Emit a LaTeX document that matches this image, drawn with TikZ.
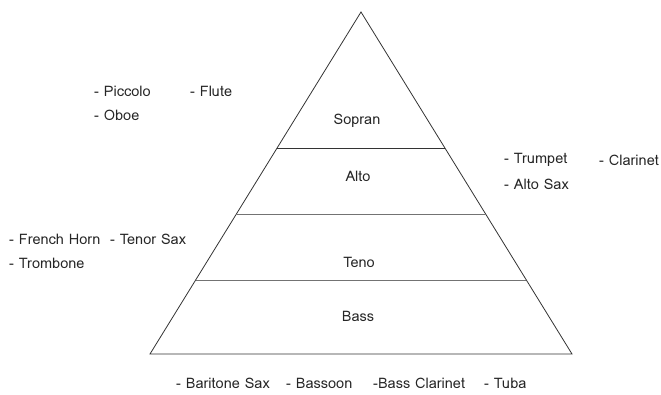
\documentclass[tikz,border=0pt]{standalone}
\usepackage{fontspec}
\setmainfont{Loma}
\begin{document}
\begin{tikzpicture}[x=1pt,y=-1pt,
  lbl/.style={anchor=west,inner sep=0pt,font=\fontsize{14.5}{16}\selectfont,text=black!85},
  clbl/.style={inner sep=0pt,font=\fontsize{14.5}{16}\selectfont,text=black!85},
  edge/.style={draw=black!80,line width=0.8pt},
  sep/.style={draw=black!55,line width=0.7pt}]
\useasboundingbox (0,0) rectangle (661,394);
\coordinate (apex) at (361,12);
\coordinate (bl) at (150,354);
\coordinate (br) at (572,354);
\draw[edge,line join=miter] (apex) -- (br) -- (bl) -- cycle;
\path (apex) -- (bl) coordinate[pos=0.3977] (l1) coordinate[pos=0.5906] (l2) coordinate[pos=0.7836] (l3);
\path (apex) -- (br) coordinate[pos=0.3977] (r1) coordinate[pos=0.5906] (r2) coordinate[pos=0.7836] (r3);
\draw[edge,line width=0.7pt] (l1) -- (r1);
\draw[sep] (l2) -- (r2);
\draw[sep] (l3) -- (r3);
\node[clbl] (sop) at (357,121) {Sopran};
\node[clbl] (alt) at (358,176) {Alto};
\node[clbl] (ten) at (359,262) {Teno};
\node[clbl] (bas) at (358,316) {Bass};
\node[lbl] (picc) at (94,91) {- Piccolo};
\node[lbl] (flut) at (190,91) {- Flute};
\node[lbl] (oboe) at (94,115) {- Oboe};
\node[lbl] (trum) at (504,160) {- Trumpet};
\node[lbl] (clar) at (599,160) {- Clarinet};
\node[lbl] (asax) at (504,184) {- Alto Sax};
\node[lbl] (fhor) at (9,239) {- French Horn};
\node[lbl] (tsax) at (110,239) {- Tenor Sax};
\node[lbl] (trom) at (9,263) {- Trombone};
\node[lbl] (bsax) at (176,383) {- Baritone Sax};
\node[lbl] (bsn) at (286,383) {- Bassoon};
\node[lbl] (bcl) at (373,383) {-Bass Clarinet};
\node[lbl] (tuba) at (484,383) {- Tuba};
\end{tikzpicture}
\end{document}
